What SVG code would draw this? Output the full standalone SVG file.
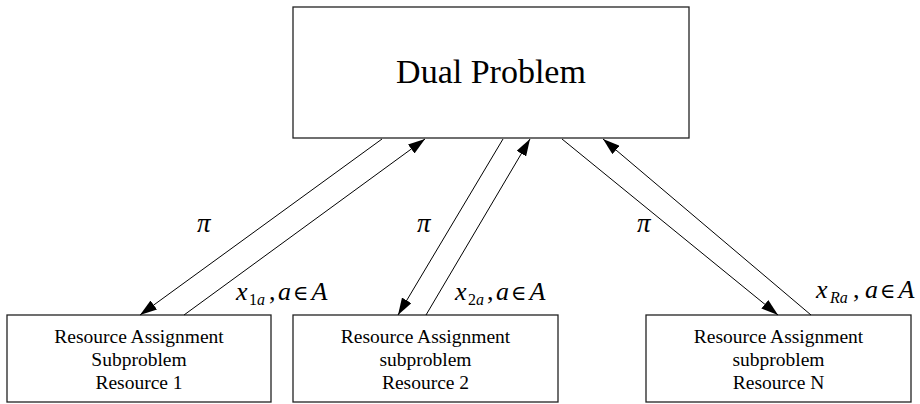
<svg xmlns="http://www.w3.org/2000/svg" width="920" height="404" viewBox="0 0 920 404">
<style>
.box{fill:#fff;stroke:#222;stroke-width:1.3}
.t{font-family:"Liberation Serif","Times New Roman",serif;fill:#000}
.main{font-size:34px;text-anchor:middle}
.sub{font-size:19.5px;text-anchor:middle}
.lbl{font-size:26px}
.pi{font-size:27px;font-style:italic}
.it{font-style:italic}
.sm{font-size:16px}
.el{font-family:"DejaVu Serif",serif;font-size:21px}
.conn line{stroke:#000;stroke-width:1;marker-end:url(#ah)}
</style>
<defs>
<marker id="ah" markerUnits="userSpaceOnUse" markerWidth="17" markerHeight="11" refX="17" refY="5.5" orient="auto">
<path d="M0,0 L17,5.5 L0,11 z" fill="#000"/>
</marker>
</defs>
<rect width="920" height="404" fill="#fff"/>
<g id="dual">
<rect class="box" x="293" y="7" width="396" height="131"/>
<text class="t main" x="491" y="83">Dual Problem</text>
</g>
<g id="sub1">
<rect class="box" x="7" y="315" width="264" height="87"/>
<text class="t sub" x="139" y="343">Resource Assignment</text>
<text class="t sub" x="139" y="366">Subproblem</text>
<text class="t sub" x="139" y="389">Resource 1</text>
</g>
<g id="sub2">
<rect class="box" x="293" y="315" width="265" height="87"/>
<text class="t sub" x="425.5" y="343">Resource Assignment</text>
<text class="t sub" x="425.5" y="366">subproblem</text>
<text class="t sub" x="425.5" y="389">Resource 2</text>
</g>
<g id="subN">
<rect class="box" x="646" y="315" width="265" height="87"/>
<text class="t sub" x="778.5" y="343">Resource Assignment</text>
<text class="t sub" x="778.5" y="366">subproblem</text>
<text class="t sub" x="778.5" y="389">Resource N</text>
</g>
<g id="connectors" class="conn">
<line x1="382" y1="139" x2="140" y2="315"/>
<line x1="184" y1="315" x2="425" y2="139"/>
<line x1="503" y1="139" x2="398" y2="315"/>
<line x1="426" y1="315" x2="530" y2="139"/>
<line x1="562" y1="139" x2="778" y2="315"/>
<line x1="811" y1="315" x2="603" y2="139"/>
</g>
<g id="labels">
<text class="t pi" x="197" y="232">π</text>
<text class="t pi" x="417" y="232">π</text>
<text class="t pi" x="637" y="232">π</text>
<text class="t lbl"><tspan class="it" x="236" y="300">x</tspan><tspan class="sm" x="249" y="305">1</tspan><tspan class="sm it">a</tspan><tspan x="269" y="300">,</tspan><tspan class="it" x="278" y="300">a</tspan><tspan class="el" dx="2">∈</tspan><tspan class="it" dx="3">A</tspan></text>
<text class="t lbl"><tspan class="it" x="455" y="300">x</tspan><tspan class="sm" x="468" y="305">2</tspan><tspan class="sm it">a</tspan><tspan x="487" y="300">,</tspan><tspan class="it" x="496" y="300">a</tspan><tspan class="el" dx="2">∈</tspan><tspan class="it" dx="3">A</tspan></text>
<text class="t lbl"><tspan class="it" x="816" y="298">x</tspan><tspan class="sm it" x="830" y="303">Ra</tspan><tspan x="853" y="298">,</tspan><tspan class="it" x="865" y="298">a</tspan><tspan class="el" dx="2">∈</tspan><tspan class="it" dx="3">A</tspan></text>
</g>
</svg>
